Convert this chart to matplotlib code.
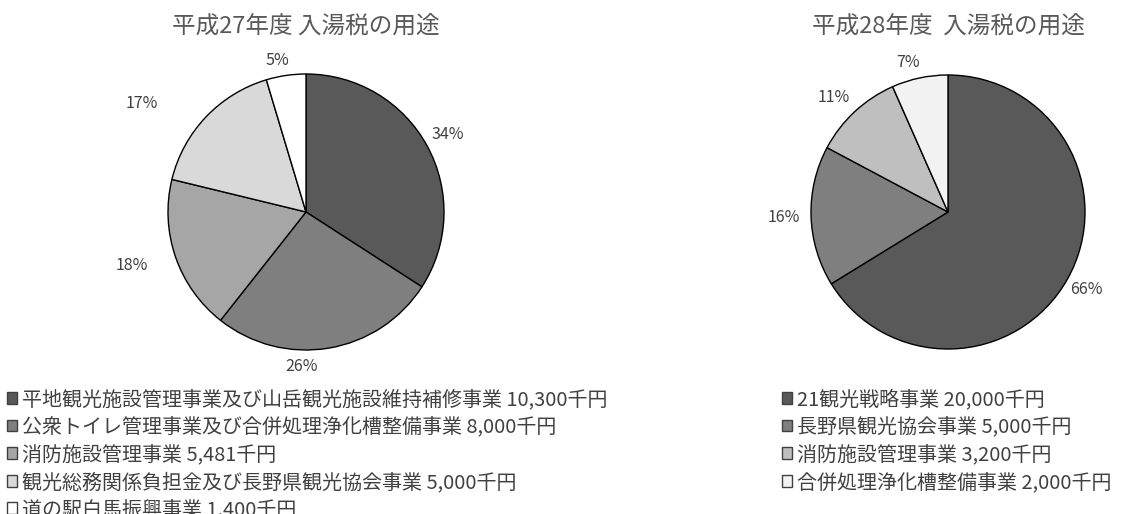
import numpy as np
import matplotlib
matplotlib.use("Agg")
import matplotlib.pyplot as plt
from matplotlib.patches import Patch

plt.rcParams['font.family'] = ['Noto Sans CJK JP', 'DejaVu Sans']

# ---- data ----
title27 = "平成27年度 入湯税の用途"
cats27 = ["平地観光施設管理事業及び山岳観光施設維持補修事業",
          "公衆トイレ管理事業及び合併処理浄化槽整備事業",
          "消防施設管理事業",
          "観光総務関係負担金及び長野県観光協会事業",
          "道の駅白馬振興事業"]
values27 = [10300, 8000, 5481, 5000, 1400]
pct27 = ["34%", "26%", "18%", "17%", "5%"]

title28 = "平成28年度  入湯税の用途"
cats28 = ["21観光戦略事業", "長野県観光協会事業", "消防施設管理事業", "合併処理浄化槽整備事業"]
values28 = [20000, 5000, 3200, 2000]
pct28 = ["66%", "16%", "11%", "7%"]

colors27 = ["#595959", "#7f7f7f", "#a6a6a6", "#d9d9d9", "#ffffff"]
colors28 = ["#595959", "#7f7f7f", "#bfbfbf", "#f2f2f2"]

W, H = 1125, 514
fig = plt.figure(figsize=(W / 100, H / 100), dpi=100)

def px_axes(cx, cy, r):
    return fig.add_axes([(cx - r) / W, (H - cy - r) / H, 2 * r / W, 2 * r / H])

def draw_pie(ax, values, colors, pcts, dang, dist):
    wedges, _ = ax.pie(values, colors=colors, startangle=90, counterclock=False,
                       radius=1.0, wedgeprops=dict(edgecolor="black", linewidth=1.0))
    ax.set_xlim(-1, 1)
    ax.set_ylim(-1, 1)
    ax.set_aspect("equal")
    ax.axis("off")
    for w, p, da, d in zip(wedges, pcts, dang, dist):
        mid = np.deg2rad((w.theta1 + w.theta2) / 2 + da)
        ax.text(d * np.cos(mid), d * np.sin(mid), p, ha="center", va="center",
                fontsize=11.5, color="#404040", clip_on=False)
    return wedges

ax1 = px_axes(306, 212, 138)
w1 = draw_pie(ax1, values27, colors27, pct27,
              [0, -11, -2, 10, 2.5], [1.17, 1.12, 1.32, 1.43, 1.12])
ax2 = px_axes(948, 212, 137)
w2 = draw_pie(ax2, values28, colors28, pct28,
              [0, 0, 2, 3], [1.16, 1.2, 1.18, 1.13])

fig.text(306 / W, 1 - 26 / H, title27, ha="center", va="center", fontsize=17, color="#595959")
fig.text(948 / W, 1 - 26 / H, title28, ha="center", va="center", fontsize=17, color="#595959")

def legend(cats, values, colors, x, y):
    handles = [Patch(facecolor=c, edgecolor="#404040", linewidth=1.0) for c in colors]
    labels = [f"{c} {v:,}千円" for c, v in zip(cats, values)]
    leg = fig.legend(handles, labels, loc="upper left", bbox_to_anchor=(x / W, 1 - y / H),
                     frameon=False, fontsize=14.4, labelcolor="#404040",
                     handlelength=0.52, handleheight=0.52, handletextpad=0.25,
                     labelspacing=0.33, borderpad=0, borderaxespad=0)
    return leg

legend(cats27, values27, colors27, 7, 389)
legend(cats28, values28, colors28, 782, 389)

fig.savefig("out.png", dpi=100)
